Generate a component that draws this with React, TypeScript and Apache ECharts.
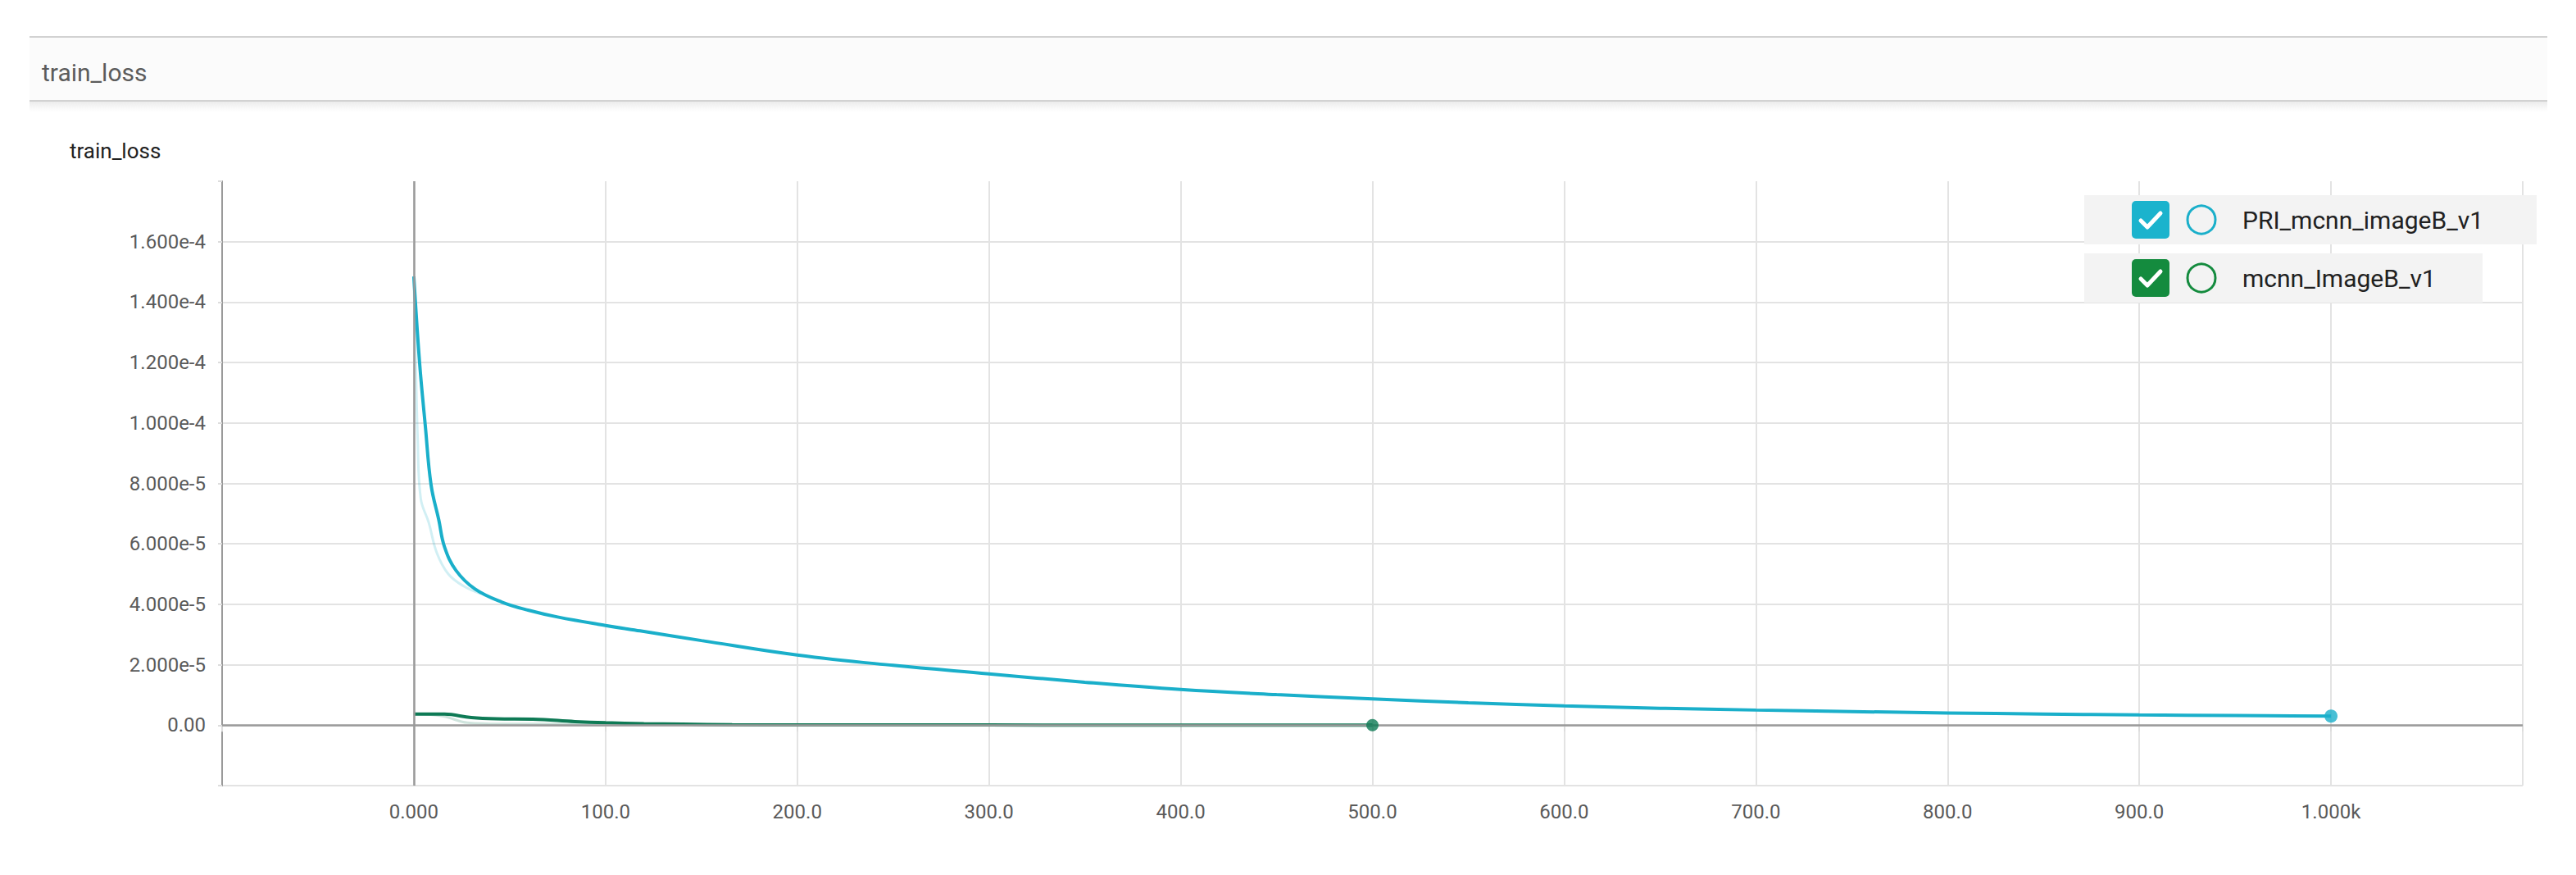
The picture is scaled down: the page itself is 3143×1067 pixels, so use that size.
import React, { useEffect, useRef } from "react";
import * as echarts from "echarts";

// ---- data ----
const cyanName = "PRI_mcnn_imageB_v1";
const greenName = "mcnn_ImageB_v1";

const cyanSteps = [0, 3, 6, 9, 13, 16, 22, 32, 46, 60, 75, 100, 118, 150, 200, 250, 300, 350, 400, 450, 500, 550, 600, 650, 700, 750, 800, 850, 900, 950, 1000];
const cyanLoss = [14.85e-5, 12.0e-5, 9.9e-5, 7.95e-5, 6.8e-5, 5.9e-5, 5.12e-5, 4.5e-5, 4.07e-5, 3.8e-5, 3.58e-5, 3.3e-5, 3.12e-5, 2.8e-5, 2.32e-5, 1.98e-5, 1.7e-5, 1.42e-5, 1.18e-5, 1.01e-5, 0.87e-5, 0.74e-5, 0.64e-5, 0.56e-5, 0.5e-5, 0.45e-5, 0.405e-5, 0.37e-5, 0.34e-5, 0.32e-5, 0.3e-5];

const cyanRawSteps = [0, 1, 2, 3.6, 7.8, 12, 18, 26, 35];
const cyanRawLoss = [14.8e-5, 12.0e-5, 9.5e-5, 7.5e-5, 6.7e-5, 5.7e-5, 5.0e-5, 4.6e-5, 4.35e-5];

const greenSteps = [0, 5, 16, 30, 43, 62, 84, 100, 120, 140, 166, 200, 300, 400, 500];
const greenLoss = [0.37e-5, 0.37e-5, 0.365e-5, 0.25e-5, 0.21e-5, 0.2e-5, 0.12e-5, 0.08e-5, 0.05e-5, 0.035e-5, 0.015e-5, 0.01e-5, 0.005e-5, 0.003e-5, 0.002e-5];

const greenRawSteps = [0, 15, 28, 45, 70, 95, 120];
const greenRawLoss = [0.37e-5, 0.3e-5, 0.08e-5, 0.04e-5, 0.04e-5, 0.05e-5, 0.03e-5];

const chartTitle = "train_loss";
const headerTitle = "train_loss";

// ---- style ----
const CYAN = "#1aafca";
const CYAN_BOX = "#1bb3cd";
const GREEN = "#0e7a55";
const GREEN_BOX = "#148b3e";
const FONT = "Roboto, 'Noto Sans', sans-serif";

const zip = (xs: number[], ys: number[]) => xs.map((x, i) => [x, ys[i]]);

function legendRow(y: number, w: number, name: string, boxColor: string, ringColor: string) {
  const x0 = 2601;
  const yc = y + 30;
  const by = yc - 23;
  return [
    { type: "rect", z: 100, shape: { x: 2543, y, width: w, height: 60 }, style: { fill: "#f3f3f3" } },
    { type: "rect", z: 101, shape: { x: x0, y: by, width: 46, height: 46, r: 5 }, style: { fill: boxColor } },
    {
      type: "polyline",
      z: 102,
      shape: { points: [[x0 + 11, by + 24], [x0 + 19, by + 32], [x0 + 35, by + 15]] },
      style: { stroke: "#ffffff", lineWidth: 5, fill: "none", lineCap: "round", lineJoin: "round" },
    },
    { type: "circle", z: 101, shape: { cx: 2686, cy: yc, r: 17 }, style: { fill: "none", stroke: ringColor, lineWidth: 3 } },
    {
      type: "text",
      z: 101,
      x: 2736,
      y: yc,
      style: { text: name, fontSize: 30, fontFamily: FONT, fill: "#212121", textVerticalAlign: "middle", verticalAlign: "middle" },
    },
  ];
}

export default function App() {
  const ref = useRef<HTMLDivElement>(null);

  useEffect(() => {
    if (!ref.current) return;
    const chart = echarts.init(ref.current, undefined, { renderer: "svg" });

    const option: any = {
      animation: false,
      backgroundColor: "#ffffff",
      title: {
        text: chartTitle,
        left: 80,
        top: 166,
        textStyle: { fontSize: 26, color: "#212121", fontFamily: FONT, fontWeight: "normal" },
      },
      grid: { left: 271, right: 65, top: 221, bottom: 109, containLabel: false },
      xAxis: {
        type: "value",
        min: -100,
        max: 1100,
        interval: 100,
        axisLine: { show: false },
        axisTick: { show: true, length: 8, lineStyle: { color: "#dddddd", width: 2 } },
        splitLine: { show: true, showMinLine: true, showMaxLine: true, lineStyle: { color: "#e3e3e3", width: 2 } },
        axisLabel: {
          margin: 20,
          fontSize: 24,
          color: "#5a5a5a",
          fontFamily: FONT,
          showMinLabel: true,
          showMaxLabel: true,
          formatter: (v: number) => {
            if (v < 0 || v > 1000) return "";
            if (v === 0) return "0.000";
            if (v === 1000) return "1.000k";
            return v.toFixed(1);
          },
        },
      },
      yAxis: {
        type: "value",
        min: -2e-5,
        max: 1.8e-4,
        interval: 2e-5,
        axisLine: { show: true, onZero: false, lineStyle: { color: "#9a9a9a", width: 2 } },
        axisTick: { show: true, length: 5, lineStyle: { color: "#dddddd", width: 2 } },
        splitLine: { show: true, showMinLine: true, showMaxLine: false, lineStyle: { color: "#e3e3e3", width: 2 } },
        axisLabel: {
          margin: 20,
          fontSize: 24,
          color: "#5a5a5a",
          fontFamily: FONT,
          formatter: (v: number) => {
            if (Math.abs(v) < 1e-12) return "0.00";
            if (v < 0 || v > 1.7e-4) return "";
            return v.toExponential(3);
          },
        },
      },
      series: [
        {
          name: cyanName + " raw",
          type: "line",
          data: zip(cyanRawSteps, cyanRawLoss),
          smooth: 0.4,
          symbol: "none",
          lineStyle: { color: CYAN, width: 3, opacity: 0.2 },
          z: 1,
          silent: true,
          markLine: {
            silent: true,
            symbol: ["none", "none"],
            label: { show: false },
            lineStyle: { color: "#9a9a9a", width: 2.5, type: "solid" },
            data: [{ xAxis: 0 }, { yAxis: 0 }],
          },
        },
        {
          name: greenName + " raw",
          type: "line",
          data: zip(greenRawSteps, greenRawLoss),
          smooth: 0.4,
          symbol: "none",
          lineStyle: { color: GREEN, width: 3, opacity: 0.2 },
          z: 1,
          silent: true,
        },
        {
          name: greenName,
          type: "line",
          data: zip(greenSteps, greenLoss),
          smooth: 0.4,
          symbol: "none",
          lineStyle: { color: GREEN, width: 4 },
          z: 3,
        },
        {
          name: cyanName,
          type: "line",
          data: zip(cyanSteps, cyanLoss),
          smooth: 0.4,
          symbol: "none",
          lineStyle: { color: CYAN, width: 4 },
          z: 4,
        },
        {
          name: greenName + " last",
          type: "scatter",
          data: [[greenSteps[greenSteps.length - 1], greenLoss[greenLoss.length - 1]]],
          symbol: "circle",
          symbolSize: 15,
          itemStyle: { color: GREEN },
          z: 5,
        },
        {
          name: cyanName + " last",
          type: "scatter",
          data: [[cyanSteps[cyanSteps.length - 1], cyanLoss[cyanLoss.length - 1]]],
          symbol: "circle",
          symbolSize: 16,
          itemStyle: { color: CYAN },
          z: 5,
        },
      ],
      graphic: [
        // header bar
        { type: "rect", shape: { x: 36, y: 124, width: 3072, height: 12 }, style: { fill: new echarts.graphic.LinearGradient(0, 0, 0, 1, [{ offset: 0, color: "#ececec" }, { offset: 1, color: "#ffffff" }]) }, z: 0 },
        { type: "rect", shape: { x: 36, y: 45, width: 3072, height: 78 }, style: { fill: "#fbfbfb" } },
        { type: "line", shape: { x1: 36, y1: 45, x2: 3108, y2: 45 }, style: { stroke: "#d2d2d2", lineWidth: 2 } },
        { type: "line", shape: { x1: 36, y1: 123, x2: 3108, y2: 123 }, style: { stroke: "#d2d2d2", lineWidth: 2 } },
        {
          type: "text",
          x: 51,
          y: 88,
          style: { text: headerTitle, fontSize: 30, fontFamily: FONT, fill: "#5c5c5c", verticalAlign: "middle", textVerticalAlign: "middle" },
        },
        // legend
        ...legendRow(238, 552, cyanName, CYAN_BOX, CYAN),
        ...legendRow(309, 486, greenName, GREEN_BOX, GREEN_BOX),
      ],
    };

    chart.setOption(option);
    return () => chart.dispose();
  }, []);

  return <div ref={ref} style={{ position: "fixed", left: 0, top: 0, width: 3143, height: 1067 }} />;
}
